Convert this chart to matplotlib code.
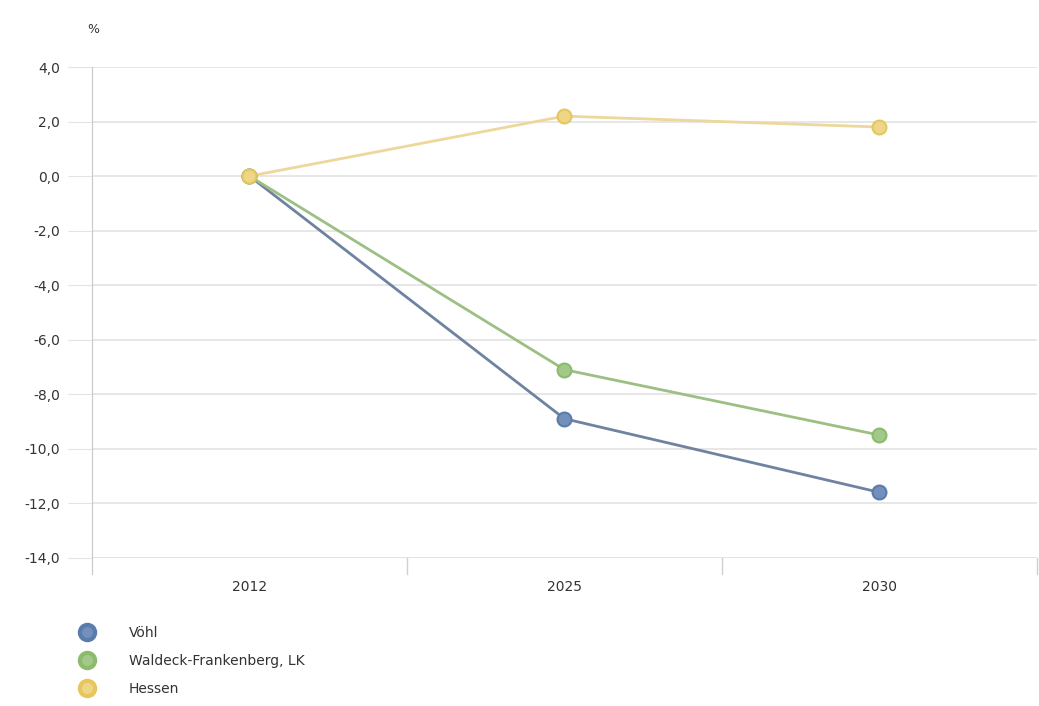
import numpy as np
import matplotlib.pyplot as plt
from matplotlib.lines import Line2D

years = ['2012', '2025', '2030']
voehl = [0.0, -8.9, -11.6]
waldeck = [0.0, -7.1, -9.5]
hessen = [0.0, 2.2, 1.8]
labels = ['Vöhl', 'Waldeck-Frankenberg, LK', 'Hessen']
yticks = [4, 2, 0, -2, -4, -6, -8, -10, -12, -14]

colors = ['#5a7cab', '#8cbb6c', '#e6c65f']
line_colors = ['#6f83a0', '#9cbf84', '#eed79a']
face_colors = ['#7290bb', '#a3c98a', '#efd687']

fig = plt.figure(figsize=(10.39, 7.06), dpi=100)
ax = fig.add_axes([0.0885, 0.21, 0.9095, 0.695])

x = np.arange(len(years))
series = [voehl, waldeck, hessen]
# lines first, then markers on top
for i in [0, 1, 2]:
    ax.plot(x, series[i], color=line_colors[i], lw=2, zorder=3)
for i in [0, 1, 2]:
    ax.plot(x, series[i], ls='none', marker='o', ms=10, mfc=face_colors[i],
            mec=colors[i], mew=1.5, zorder=4)

ax.set_xlim(-0.5, 2.5)
ax.set_ylim(-14, 4)
ax.set_yticks(yticks)
ax.set_yticklabels([('%.1f' % v).replace('.', ',') for v in yticks])
ax.set_xticks(x)
ax.set_xticklabels(years)
ax.grid(axis='y', color='#e3e3e3', lw=1.2)
ax.set_axisbelow(True)
for s in ['top', 'right', 'bottom']:
    ax.spines[s].set_visible(False)
ax.spines['left'].set_color('#c8c8c8')
ax.spines['left'].set_bounds(-14.6, 4)
ax.tick_params(axis='y', length=17, color='#e3e3e3', labelsize=10, labelcolor='#333333', pad=6)
ax.tick_params(axis='x', length=0, labelsize=10, labelcolor='#333333', pad=16)

# separator ticks between categories
for b in [0.5, 1.5, 2.5]:
    ax.plot([b, b], [-14, -14.6], color='#d0d0d0', lw=1, clip_on=False)
ax.axhline(-14, color='#e3e3e3', lw=1.2, zorder=1)

fig.text(0.09, 0.958, '%', fontsize=9, color='#333333', ha='center', va='center')

handles = [Line2D([], [], ls='none', marker='o', ms=11, mfc=face_colors[i],
                  mec=colors[i], mew=3) for i in range(3)]
fig.legend(handles, labels, loc='upper left', bbox_to_anchor=(0.065, 0.121),
           frameon=False, fontsize=10, labelspacing=1.0, handletextpad=2.0,
           borderaxespad=0, labelcolor='#333333')

fig.savefig('out.png', dpi=100)
